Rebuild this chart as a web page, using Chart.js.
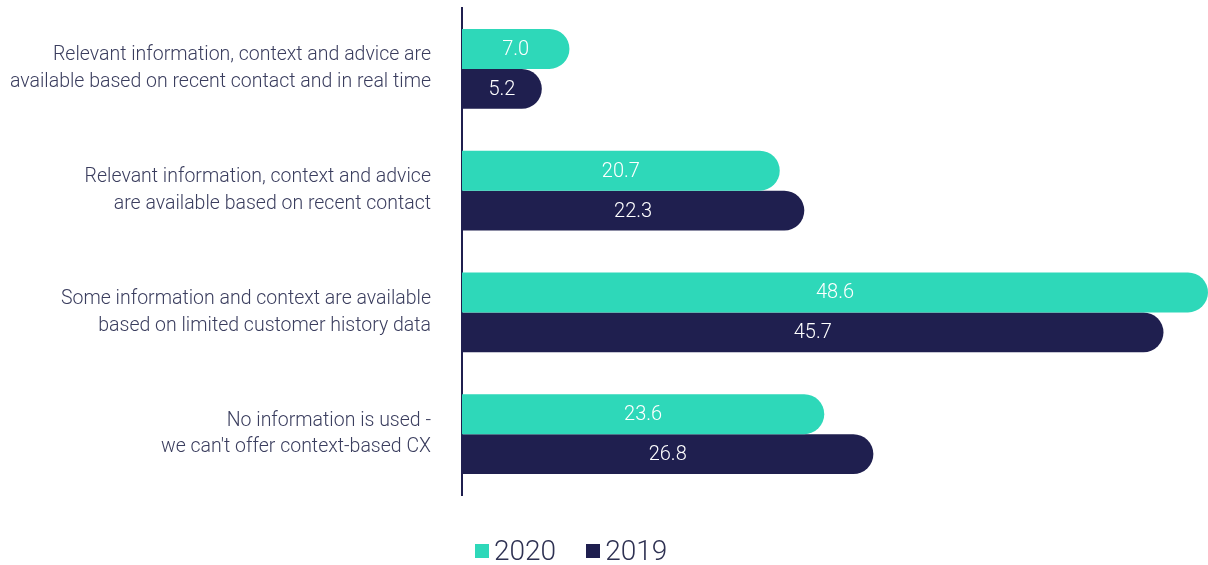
<!DOCTYPE html>
<html>
<head>
<meta charset="utf-8">
<script src="https://cdn.jsdelivr.net/npm/chart.js@4/dist/chart.umd.min.js"></script>
<style>
  html, body { margin: 0; padding: 0; background: #fff; }
  #wrap { position: relative; width: 1208px; height: 565px; }
  #legend { position: absolute; left: 475px; top: 534px; display: flex; align-items: center;
    font-family: Roboto, sans-serif; font-weight: 300; font-size: 28px; color: #2e3152; }
  #legend span.box { display: inline-block; width: 14px; height: 14px; margin-right: 5px; }
  #legend .item { display: flex; align-items: center; margin-right: 30px; }
</style>
</head>
<body>
<div id="wrap">
  <canvas id="chart" width="1208" height="565"></canvas>
  <div id="legend"></div>
</div>
<script>
const categories = [
    ['Relevant information, context and advice are', 'available based on recent contact and in real time'],
    ['Relevant information, context and advice', 'are available based on recent contact'],
    ['Some information and context are available', 'based on limited customer history data'],
    ['No information is used -', "we can't offer context-based CX"]
];
const values2020 = [7.0, 20.7, 48.6, 23.6];
const values2019 = [5.2, 22.3, 45.7, 26.8];
const seriesNames = ['2020', '2019'];
const seriesColors = ['#2ed8b9', '#1f1f4f'];

// value labels drawn inside each bar
const barLabels = {
    id: 'barLabels',
    afterDatasetsDraw(chart) {
        const ctx = chart.ctx;
        ctx.save();
        ctx.font = '300 20px Roboto';
        ctx.fillStyle = '#ffffff';
        ctx.textAlign = 'center';
        ctx.textBaseline = 'middle';
        chart.data.datasets.forEach((ds, i) => {
            chart.getDatasetMeta(i).data.forEach((bar, j) => {
                const x = (bar.base + bar.x) / 2;
                ctx.fillText(ds.data[j].toFixed(1), x, bar.y + 1);
            });
        });
        ctx.restore();
    }
};

const ctx = document.getElementById('chart').getContext('2d');
const chart = new Chart(ctx, {
    type: 'bar',
    data: {
        labels: categories,
        datasets: [{
            label: seriesNames[0],
            data: values2020,
            backgroundColor: seriesColors[0],
            borderRadius: 20,
            borderSkipped: 'start'
        }, {
            label: seriesNames[1],
            data: values2019,
            backgroundColor: seriesColors[1],
            borderRadius: 20,
            borderSkipped: 'start'
        }]
    },
    options: {
        indexAxis: 'y',
        responsive: false,
        animation: false,
        layout: { padding: { top: 8, bottom: 70, right: 0, left: 0 } },
        datasets: {
            bar: { barPercentage: 1, categoryPercentage: 0.657 }
        },
        scales: {
            x: {
                display: false,
                min: 0,
                max: 48.6
            },
            y: {
                grid: { display: false, drawTicks: false },
                border: { display: true, color: '#1f1f4f', width: 2 },
                ticks: {
                    padding: 31,
                    color: '#3a3d5e',
                    font: { family: 'Roboto', weight: 300, size: 19.5, lineHeight: 1.38 }
                },
                afterFit(scale) {
                    scale.width = 462;
                    scale.paddingTop = 0;
                    scale.paddingBottom = 0;
                }
            }
        },
        plugins: {
            legend: { display: false },
            tooltip: { enabled: false }
        }
    },
    plugins: [barLabels]
});

// html legend
const legendEl = document.getElementById('legend');
seriesNames.forEach((name, i) => {
    const item = document.createElement('div');
    item.className = 'item';
    item.innerHTML = '<span class="box" style="background:' + seriesColors[i] + '"></span>' + name;
    legendEl.appendChild(item);
});
</script>
</body>
</html>
